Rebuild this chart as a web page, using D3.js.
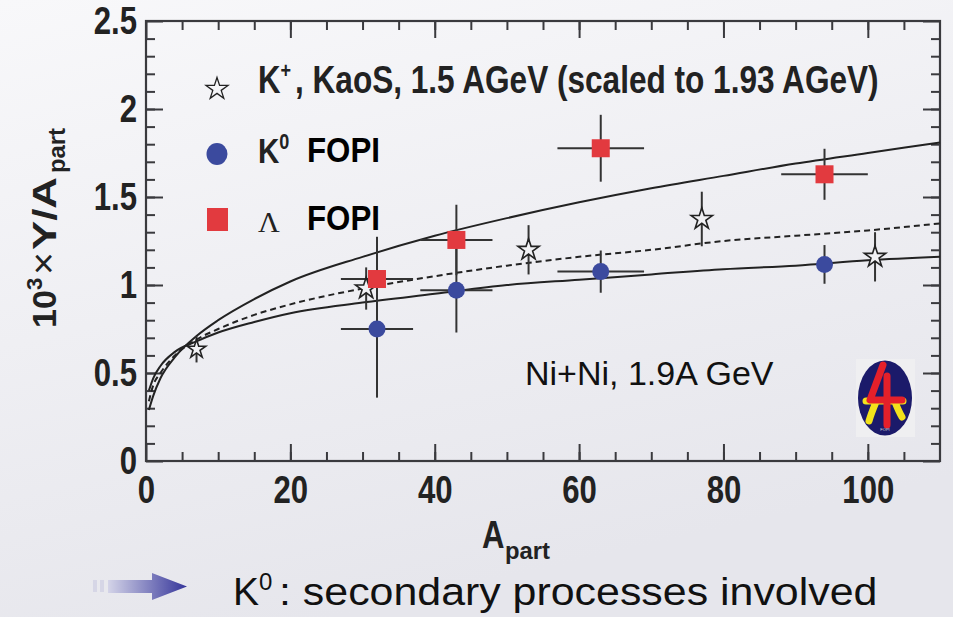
<!DOCTYPE html>
<html>
<head>
<meta charset="utf-8">
<script src="https://cdn.jsdelivr.net/npm/d3@7"></script>
<style>
  html, body { margin: 0; padding: 0; background: #eeeef2; }
  svg { display: block; }
</style>
</head>
<body>
<svg id="chart" width="953" height="617"></svg>
<script>
// ---- data -------------------------------------------------------------
// K+ (KaoS, 1.5 AGeV scaled to 1.93 AGeV)
const kaosA   = [7, 30.5, 53, 77, 101];
const kaosY   = [0.635, 0.98, 1.20, 1.375, 1.16];
const kaosErr = [0.075, 0.12, 0.14, 0.155, 0.14];

// K0 (FOPI)
const k0A    = [32, 43, 63, 94];
const k0Y    = [0.75, 0.97, 1.076, 1.117];
const k0ErrY = [0.39, 0.24, 0.12, 0.11];
const k0ErrA = [5, 5, 6, 0];

// Lambda (FOPI)
const lamA    = [32, 43, 63, 94];
const lamY    = [1.034, 1.256, 1.777, 1.629];
const lamErrY = [0.24, 0.20, 0.19, 0.145];
const lamErrA = [5, 5, 6, 6];

// fit curves, sampled along A_part
const fitA      = [0.4, 1, 2, 4, 7, 10, 15, 20, 30, 40, 50, 60, 70, 80, 90, 100, 110];
const fitLambda = [0.29, 0.37, 0.47, 0.59, 0.71, 0.80, 0.92, 1.02, 1.16, 1.28, 1.38, 1.47, 1.55, 1.62, 1.69, 1.75, 1.81];
const fitK0     = [0.40, 0.47, 0.54, 0.62, 0.68, 0.73, 0.79, 0.84, 0.90, 0.95, 1.00, 1.03, 1.06, 1.09, 1.11, 1.14, 1.16];
const fitKaos   = [0.34, 0.43, 0.50, 0.60, 0.69, 0.75, 0.83, 0.89, 0.98, 1.05, 1.11, 1.16, 1.20, 1.25, 1.28, 1.31, 1.35];

// axes
const xMajor = [0, 20, 40, 60, 80, 100];
const xMinor = d3.range(5, 110, 5);
const yMajor = [0, 0.5, 1, 1.5, 2, 2.5];
const yMinor = d3.range(1, 25).map(i => i / 10);
const yLabels = ["0", "0.5", "1", "1.5", "2", "2.5"];

// ---- layout -----------------------------------------------------------
const svg = d3.select("#chart");
const L = 146, R = 940, T = 21, B = 461;
const x = d3.scaleLinear().domain([0, 110]).range([L, R]);
const y = d3.scaleLinear().domain([0, 2.5]).range([B, T]);

const sans = "'Liberation Sans', Arial, Helvetica, sans-serif";
const condensed = "scale(0.82,1)";   // narrow look for the bold labels
const axisCol = "#3a3a3e";
const ink = "#222";

// background
const defs = svg.append("defs");
const bg = defs.append("linearGradient").attr("id", "bg")
  .attr("x1", 0).attr("y1", 0).attr("x2", 0.35).attr("y2", 1);
bg.append("stop").attr("offset", 0).attr("stop-color", "#f8f8fa");
bg.append("stop").attr("offset", 1).attr("stop-color", "#e6e6ec");
svg.append("rect").attr("width", 953).attr("height", 617).attr("fill", "url(#bg)");

const arrowGrad = defs.append("linearGradient").attr("id", "arrowGrad")
  .attr("x1", 0).attr("y1", 0).attr("x2", 1).attr("y2", 0);
arrowGrad.append("stop").attr("offset", 0).attr("stop-color", "#d4d4e8");
arrowGrad.append("stop").attr("offset", 1).attr("stop-color", "#35359a");

// ---- axes (ticks point inward on all four sides) -----------------------
function styleAxis(g) {
  g.select(".domain").remove();
  g.selectAll(".tick line").attr("stroke", axisCol).attr("stroke-width", 2);
}
function styleLabels(g) {
  g.selectAll("text").attr("font-family", sans).attr("font-weight", "bold")
    .attr("font-size", 38).attr("fill", ink).attr("transform", condensed);
}
const noLabel = () => "";

svg.append("g").attr("transform", `translate(0,${B})`)
  .call(d3.axisBottom(x).tickValues(xMinor).tickSize(-9).tickFormat(noLabel)).call(styleAxis);
svg.append("g").attr("transform", `translate(0,${B})`)
  .call(d3.axisBottom(x).tickValues(xMajor).tickSize(-17).tickPadding(15).tickFormat(d3.format("d")))
  .call(styleAxis).call(styleLabels);

svg.append("g").attr("transform", `translate(0,${T})`)
  .call(d3.axisTop(x).tickValues(xMinor).tickSize(-9).tickFormat(noLabel)).call(styleAxis);
svg.append("g").attr("transform", `translate(0,${T})`)
  .call(d3.axisTop(x).tickValues(xMajor).tickSize(-17).tickFormat(noLabel)).call(styleAxis);

svg.append("g").attr("transform", `translate(${L},0)`)
  .call(d3.axisLeft(y).tickValues(yMinor).tickSize(-9).tickFormat(noLabel)).call(styleAxis);
svg.append("g").attr("transform", `translate(${L},0)`)
  .call(d3.axisLeft(y).tickValues(yMajor).tickSize(-17).tickPadding(11)
    .tickFormat((d, i) => yLabels[i]))
  .call(styleAxis).call(styleLabels);

svg.append("g").attr("transform", `translate(${R},0)`)
  .call(d3.axisRight(y).tickValues(yMinor).tickSize(-9).tickFormat(noLabel)).call(styleAxis);
svg.append("g").attr("transform", `translate(${R},0)`)
  .call(d3.axisRight(y).tickValues(yMajor).tickSize(-17).tickFormat(noLabel)).call(styleAxis);

svg.append("rect").attr("x", L).attr("y", T).attr("width", R - L).attr("height", B - T)
  .attr("fill", "none").attr("stroke", axisCol).attr("stroke-width", 2.2);

// x-axis title: A_part
const titleFont = g => g.attr("font-family", sans).attr("font-weight", "bold").attr("fill", ink);
svg.append("text").attr("transform", "translate(482,548) " + condensed)
  .call(titleFont).attr("font-size", 38).text("A");
svg.append("text").attr("x", 505).attr("y", 559)
  .call(titleFont).attr("font-size", 24)
  .attr("textLength", 45).attr("lengthAdjust", "spacingAndGlyphs").text("part");

// y-axis title: 10^3 x Y/A_part, written bottom-to-top
const yt = svg.append("g").attr("transform", "translate(56,328) rotate(-90)");
yt.append("text").attr("x", 0).call(titleFont).attr("font-size", 34)
  .attr("textLength", 38).attr("lengthAdjust", "spacingAndGlyphs").text("10");
yt.append("text").attr("x", 38).attr("y", -14).call(titleFont).attr("font-size", 22).text("3");
yt.append("text").attr("x", 53).attr("y", 0).attr("font-family", sans).attr("fill", ink)
  .attr("font-size", 36).attr("textLength", 23).attr("lengthAdjust", "spacingAndGlyphs").text("\u00d7");
yt.append("text").attr("x", 78).call(titleFont).attr("font-size", 34)
  .attr("textLength", 73).attr("lengthAdjust", "spacingAndGlyphs").text("Y/A");
yt.append("text").attr("x", 155).attr("y", 9).call(titleFont).attr("font-size", 24)
  .attr("textLength", 45).attr("lengthAdjust", "spacingAndGlyphs").text("part");

// ---- fit curves -------------------------------------------------------
const plot = svg.append("g");
const line = d3.line().x(d => x(d[0])).y(d => y(d[1])).curve(d3.curveMonotoneX);
plot.append("path").datum(d3.zip(fitA, fitLambda)).attr("d", line)
  .attr("fill", "none").attr("stroke", ink).attr("stroke-width", 2);
plot.append("path").datum(d3.zip(fitA, fitK0)).attr("d", line)
  .attr("fill", "none").attr("stroke", ink).attr("stroke-width", 2);
plot.append("path").datum(d3.zip(fitA, fitKaos)).attr("d", line)
  .attr("fill", "none").attr("stroke", ink).attr("stroke-width", 2)
  .attr("stroke-dasharray", "6,4");

// ---- error bars -------------------------------------------------------
const barCol = "#333";
function errorBars(A, Y, eY, eA) {
  A.forEach((a, i) => {
    plot.append("line").attr("x1", x(a)).attr("x2", x(a))
      .attr("y1", y(Y[i] - eY[i])).attr("y2", y(Y[i] + eY[i]))
      .attr("stroke", barCol).attr("stroke-width", 2);
    if (eA && eA[i] > 0) {
      plot.append("line").attr("x1", x(a - eA[i])).attr("x2", x(a + eA[i]))
        .attr("y1", y(Y[i])).attr("y2", y(Y[i]))
        .attr("stroke", barCol).attr("stroke-width", 2);
    }
  });
}
errorBars(kaosA, kaosY, kaosErr, null);
errorBars(k0A, k0Y, k0ErrY, k0ErrA);
errorBars(lamA, lamY, lamErrY, lamErrA);

// ---- markers ----------------------------------------------------------
const red = "#e23a3f", blue = "#3b4a9e";
const star = d3.symbol().type(d3.symbolStar);
kaosA.forEach((a, i) => {
  plot.append("path").attr("d", star.size(i === 0 ? 105 : 140)())
    .attr("transform", `translate(${x(a)},${y(kaosY[i])})`)
    .attr("fill", "#f1f1f4").attr("stroke", ink).attr("stroke-width", 1.6);
});
k0A.forEach((a, i) => {
  plot.append("circle").attr("cx", x(a)).attr("cy", y(k0Y[i])).attr("r", 8.5).attr("fill", blue);
});
lamA.forEach((a, i) => {
  plot.append("rect").attr("x", x(a) - 9).attr("y", y(lamY[i]) - 9)
    .attr("width", 18).attr("height", 18).attr("fill", red);
});

// ---- legend -----------------------------------------------------------
const leg = svg.append("g");
leg.append("path").attr("d", d3.symbol().type(d3.symbolStar).size(150)())
  .attr("transform", "translate(217,89)").attr("fill", "none")
  .attr("stroke", ink).attr("stroke-width", 1.3);
const l1 = leg.append("text").attr("transform", "translate(258,93) " + condensed)
  .attr("font-family", sans).attr("font-weight", "bold").attr("font-size", 38).attr("fill", ink);
l1.append("tspan").text("K");
l1.append("tspan").attr("font-size", 22).attr("dy", -15).text("+");
leg.append("text").attr("transform", "translate(295,93) scale(0.831,1)")
  .attr("font-family", sans).attr("font-weight", "bold").attr("font-size", 38).attr("fill", ink)
  .text(", KaoS, 1.5 AGeV (scaled to 1.93 AGeV)");

leg.append("ellipse").attr("cx", 217).attr("cy", 154).attr("rx", 10.5).attr("ry", 11).attr("fill", blue);
const l2 = leg.append("text").attr("transform", "translate(258,163) " + condensed)
  .attr("font-family", sans).attr("font-weight", "bold").attr("font-size", 36).attr("fill", ink);
l2.append("tspan").text("K");
l2.append("tspan").attr("font-size", 22).attr("dy", -14).text("0");
leg.append("text").attr("x", 307).attr("y", 162)
  .attr("font-family", sans).attr("font-weight", "bold").attr("font-size", 35).attr("fill", "#000")
  .attr("textLength", 73).attr("lengthAdjust", "spacingAndGlyphs").text("FOPI");

leg.append("rect").attr("x", 207).attr("y", 208).attr("width", 21).attr("height", 23).attr("fill", red);
leg.append("text").attr("x", 258).attr("y", 232)
  .attr("font-family", "'Liberation Serif', 'Times New Roman', serif").attr("font-size", 30)
  .attr("fill", ink).text("\u039b");
leg.append("text").attr("x", 307).attr("y", 230)
  .attr("font-family", sans).attr("font-weight", "bold").attr("font-size", 35).attr("fill", "#000")
  .attr("textLength", 73).attr("lengthAdjust", "spacingAndGlyphs").text("FOPI");

// reaction label
svg.append("text").attr("x", 525).attr("y", 385)
  .attr("font-family", sans).attr("font-size", 34).attr("fill", "#111")
  .text("Ni+Ni, 1.9A GeV");

// ---- FOPI logo --------------------------------------------------------
const logo = svg.append("g").attr("transform", "translate(885,398)");
logo.append("rect").attr("x", -29).attr("y", -39).attr("width", 59).attr("height", 78).attr("fill", "#efeff1");
logo.append("ellipse").attr("rx", 27).attr("ry", 37.5).attr("fill", "#1b1a6a");
logo.append("path").attr("d", "M-19,3 L18,3 M-9,4 Q-14,16 -16,23 M10,4 Q14,14 17,19")
  .attr("fill", "none").attr("stroke", "#f2e21c").attr("stroke-width", 7).attr("stroke-linecap", "round");
logo.append("path").attr("d", "M-2,-33 L-15,2 L17,2 M2,-22 L2,27")
  .attr("fill", "none").attr("stroke", "#e5202a").attr("stroke-width", 7)
  .attr("stroke-linecap", "round").attr("stroke-linejoin", "round");
logo.append("text").attr("y", 33).attr("text-anchor", "middle")
  .attr("font-family", sans).attr("font-size", 4).attr("fill", "#ddd").text("FOPI");

// ---- note below the chart --------------------------------------------
const note = svg.append("g");
note.append("rect").attr("x", 93).attr("y", 580).attr("width", 4).attr("height", 12).attr("fill", "#d6d6e6");
note.append("rect").attr("x", 100).attr("y", 580).attr("width", 4).attr("height", 12).attr("fill", "#d6d6e6");
note.append("path").attr("d", "M108,580 L152,580 L152,573 L187,586.5 L152,600 L152,593 L108,593 Z")
  .attr("fill", "url(#arrowGrad)");
const nt = note.append("text").attr("x", 233).attr("y", 605)
  .attr("font-family", sans).attr("font-size", 39).attr("fill", "#111");
nt.append("tspan").text("K");
nt.append("tspan").attr("font-size", 24).attr("dy", -15).text("0");
note.append("text").attr("transform", "translate(279,605) scale(1.1,1)")
  .attr("font-family", sans).attr("font-size", 39).attr("fill", "#111")
  .text(": secondary processes involved");
</script>
</body>
</html>
